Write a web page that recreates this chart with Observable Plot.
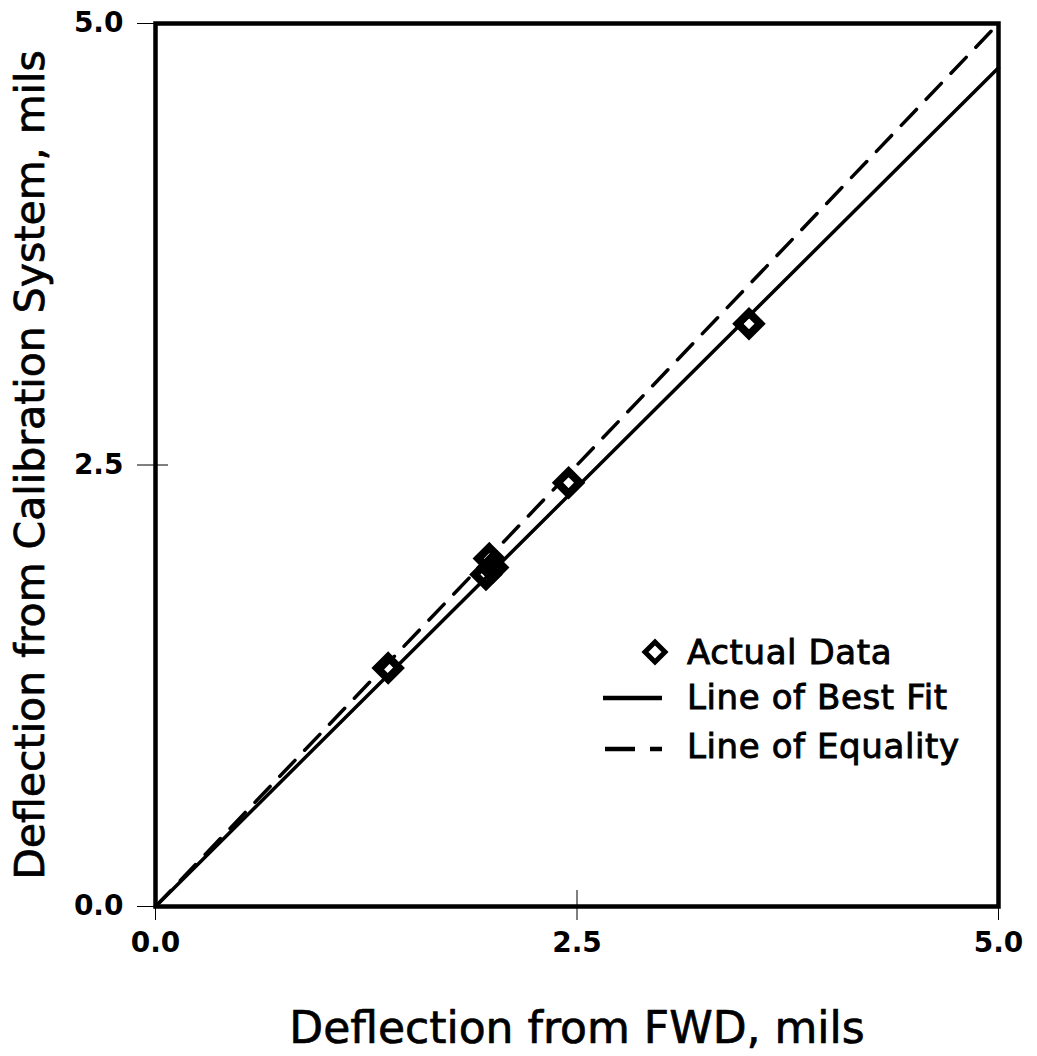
<!DOCTYPE html>
<html>
<head>
<meta charset="utf-8">
<script src="https://cdn.jsdelivr.net/npm/d3@7"></script>
<script src="https://cdn.jsdelivr.net/npm/@observablehq/plot@0.6"></script>
<style>
  html, body { margin: 0; padding: 0; background: #fff; }
  #wrap { position: relative; width: 1037px; height: 1056px; }
  #legend { position: absolute; left: 570px; top: 620px; }
</style>
</head>
<body>
<div id="wrap"></div>
<script>
// Data
const fwdDeflection = [1.38, 1.96, 2.00, 1.98, 2.45, 3.52];
const calDeflection = [1.35, 1.88, 1.92, 1.97, 2.40, 3.30];
const bestFitX = [0, 5];
const bestFitY = [0, 4.75];
const equalityX = [0, 5];
const equalityY = [0, 5];
const tickValues = [0, 2.5, 5];
const legendLabels = ["Actual Data", "Line of Best Fit", "Line of Equality"];

const points = fwdDeflection.map((x, i) => ({x, y: calDeflection[i]}));
const fit = bestFitX.map((x, i) => ({x, y: bestFitY[i]}));
const eq = equalityX.map((x, i) => ({x, y: equalityY[i]}));

const font = "DejaVu Sans, sans-serif";
const fmt = d => d.toFixed(1);
const none = () => "";
const chart = Plot.plot({
  width: 1037,
  height: 1056,
  marginLeft: 155,
  marginRight: 39,
  marginTop: 23,
  marginBottom: 150,
  style: {fontFamily: font, background: "#fff", color: "#000"},
  x: {domain: [0, 5]},
  y: {domain: [0, 5]},
  marks: [
    Plot.line(eq, {x: "x", y: "y", stroke: "#000", strokeWidth: 3.5, strokeDasharray: "22,14"}),
    Plot.line(fit, {x: "x", y: "y", stroke: "#000", strokeWidth: 3.5}),
    Plot.dot(points, {x: "x", y: "y", symbol: "diamond2", r: 10, stroke: "#000", strokeWidth: 8, fill: "none"}),
    Plot.frame({stroke: "#000", strokeWidth: 4.5}),
    // crossing tick marks
    Plot.axisX({ticks: tickValues, tickFormat: none, tickSize: 14, tickWidth: 3, label: null}),
    Plot.axisX({ticks: tickValues, tickFormat: none, tickSize: 16, dy: -16, tickWidth: 3, label: null}),
    Plot.axisY({ticks: tickValues, tickFormat: none, tickSize: 18, tickWidth: 3, label: null}),
    Plot.axisY({ticks: tickValues, tickFormat: none, tickSize: 13, dx: 13, tickWidth: 3, label: null}),
    // tick labels
    Plot.axisX({ticks: tickValues, tickFormat: fmt, tickSize: 0, tickPadding: 26, fontSize: 28, fontWeight: "bold", label: null}),
    Plot.axisY({ticks: tickValues, tickFormat: fmt, tickSize: 0, tickPadding: 32, fontSize: 28, fontWeight: "bold", label: null}),
    // axis titles
    Plot.text(["Deflection from FWD, mils"], {frameAnchor: "bottom", dy: 122, lineAnchor: "middle", fontSize: 44, fill: "#000", stroke: "#000", strokeWidth: 0.7}),
    Plot.text(["Deflection from Calibration System, mils"], {frameAnchor: "left", dx: -125, textAnchor: "middle", lineAnchor: "middle", rotate: -90, fontSize: 41, fill: "#000", stroke: "#000", strokeWidth: 0.7})
  ]
});
chart.querySelectorAll("text").forEach(t => t.setAttribute("fill", "#000"));
document.getElementById("wrap").appendChild(chart);

// Legend
const leg = d3.create("svg").attr("id", "legend").attr("width", 440).attr("height", 150)
  .style("font-family", font);
const rowY = [32, 77, 126];
const textX = 117;
leg.append("path").attr("d", "M85,22 L95,32 L85,42 L75,32 Z").attr("fill", "none").attr("stroke", "#000").attr("stroke-width", 5);
leg.append("line").attr("x1", 33).attr("x2", 92).attr("y1", 78).attr("y2", 78).attr("stroke", "#000").attr("stroke-width", 4.5);
leg.append("line").attr("x1", 35).attr("x2", 65).attr("y1", 129).attr("y2", 129).attr("stroke", "#000").attr("stroke-width", 4.5);
leg.append("line").attr("x1", 80).attr("x2", 92).attr("y1", 129).attr("y2", 129).attr("stroke", "#000").attr("stroke-width", 4.5);
legendLabels.forEach((lab, i) => {
  leg.append("text").attr("x", textX).attr("y", rowY[i]).attr("dy", "0.36em")
    .attr("font-size", 34).attr("letter-spacing", 0.6).attr("fill", "#000").attr("stroke", "#000").attr("stroke-width", 0.9)
    .text(lab);
});
document.getElementById("wrap").appendChild(leg.node());
</script>
</body>
</html>
